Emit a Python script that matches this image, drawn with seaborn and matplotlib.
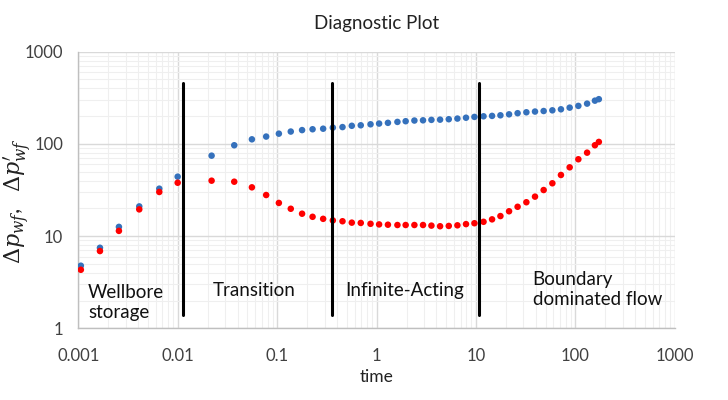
import numpy as np
import pandas as pd
import matplotlib
matplotlib.use("Agg")
import matplotlib.pyplot as plt
import seaborn as sns
from matplotlib.ticker import LogLocator, NullFormatter, FixedLocator

# values
time = [0.00106, 0.00165, 0.00256, 0.0041, 0.00652, 0.00998, 0.0219, 0.037,
        0.0557, 0.0775, 0.104, 0.137, 0.178, 0.227, 0.290, 0.363, 0.454, 0.563,
        0.693, 0.869, 1.06, 1.30, 1.62, 1.96, 2.40, 2.93, 3.56, 4.35, 5.32,
        6.50, 7.93, 9.64, 11.9, 14.5, 17.6, 21.5, 26.2, 32.1, 39.2, 47.9, 58.6,
        71.5, 87.5, 107, 131, 157, 172]
dp = [4.78, 7.48, 12.6, 21.0, 32.7, 44.1, 74.5, 96.6, 112, 120, 129, 136, 141,
      144, 146, 150, 152, 157, 159, 163, 166, 169, 173, 176, 179, 180, 182, 183,
      185, 188, 192, 196, 199, 201, 204, 209, 215, 220, 224, 227, 231, 237, 247,
      258, 273, 294, 305]
dp_deriv = [4.32, 6.89, 11.4, 19.5, 30.1, 37.9, 39.9, 38.9, 33.8, 27.9, 22.9,
            19.8, 17.5, 16.2, 15.4, 14.8, 14.5, 14.0, 13.9, 13.6, 13.4, 13.3,
            13.2, 13.2, 13.2, 13.2, 13.0, 12.8, 12.9, 13.1, 13.5, 13.8, 14.3,
            15.2, 16.5, 18.6, 20.8, 23.3, 26.8, 31.6, 37.4, 46.0, 55.7, 68.1,
            80.3, 96.6, 105]

boundaries = [0.0112, 0.357, 10.6]
regions = ["Wellbore\nstorage", "Transition", "Infinite-Acting", "Boundary\ndominated flow"]
region_x = [0.00125, 0.0226, 0.479, 37.2]
region_y = [1.9, 2.6, 2.6, 2.64]

df = pd.DataFrame({
    "time": time + time,
    "value": dp + dp_deriv,
    "series": ["dp"] * len(time) + ["deriv"] * len(time),
})

sns.set_style("white")
plt.rcParams["font.family"] = ["Lato", "DejaVu Sans"]
plt.rcParams["mathtext.fontset"] = "dejavuserif"

fig = plt.figure(figsize=(7.28, 4), dpi=100)
ax = fig.add_axes([0.1076, 0.179, 0.8194, 0.692])

sns.scatterplot(data=df, x="time", y="value", hue="series",
                palette={"dp": "#3571BC", "deriv": "#FF0000"},
                s=22, linewidth=0, legend=False, ax=ax, zorder=3)

ax.set_xscale("log")
ax.set_yscale("log")
ax.set_xlim(0.001, 1000)
ax.set_ylim(1, 1000)

ax.xaxis.set_major_locator(FixedLocator([0.001, 0.01, 0.1, 1, 10, 100, 1000]))
ax.set_xticklabels(["0.001", "0.01", "0.1", "1", "10", "100", "1000"])
ax.yaxis.set_major_locator(FixedLocator([1, 10, 100, 1000]))
ax.set_yticklabels(["1", "10", "100", "1000"])
ax.xaxis.set_minor_locator(LogLocator(base=10, subs=np.arange(2, 10)))
ax.yaxis.set_minor_locator(LogLocator(base=10, subs=np.arange(2, 10)))
ax.xaxis.set_minor_formatter(NullFormatter())
ax.yaxis.set_minor_formatter(NullFormatter())

ax.grid(True, which="major", color="#D9D9D9", linewidth=1.0, zorder=0)
ax.grid(True, which="minor", color="#EFEFEF", linewidth=0.8, zorder=0)
ax.tick_params(which="both", length=0, labelsize=12, colors="#404040")
ax.tick_params(axis="x", pad=14)
ax.tick_params(axis="y", pad=11)

for side in ["top", "right"]:
    ax.spines[side].set_visible(False)
for side in ["left", "bottom"]:
    ax.spines[side].set_color("#BFBFBF")
    ax.spines[side].set_linewidth(1.0)

for b in boundaries:
    ax.plot([b, b], [1.39, 461], color="black", linewidth=2.2, zorder=4)

for label, x, y in zip(regions, region_x, region_y):
    ax.text(x, y, label, fontsize=13.5, ha="left", va="center",
            color="#111111", linespacing=1.2, zorder=5)

ax.set_xlabel("time", fontsize=12.5, color="#222222", labelpad=4)
ax.set_ylabel("")
fig.text(18 / 728, 0.4975, r"$\Delta p_{wf}$,   $\Delta p^{\prime}_{wf}$",
         fontsize=16, color="#222222", rotation=90, ha="center", va="center")
ax.set_title("Diagnostic Plot", fontsize=13.5, color="#222222", pad=16)

fig.savefig("out.png", dpi=100)
